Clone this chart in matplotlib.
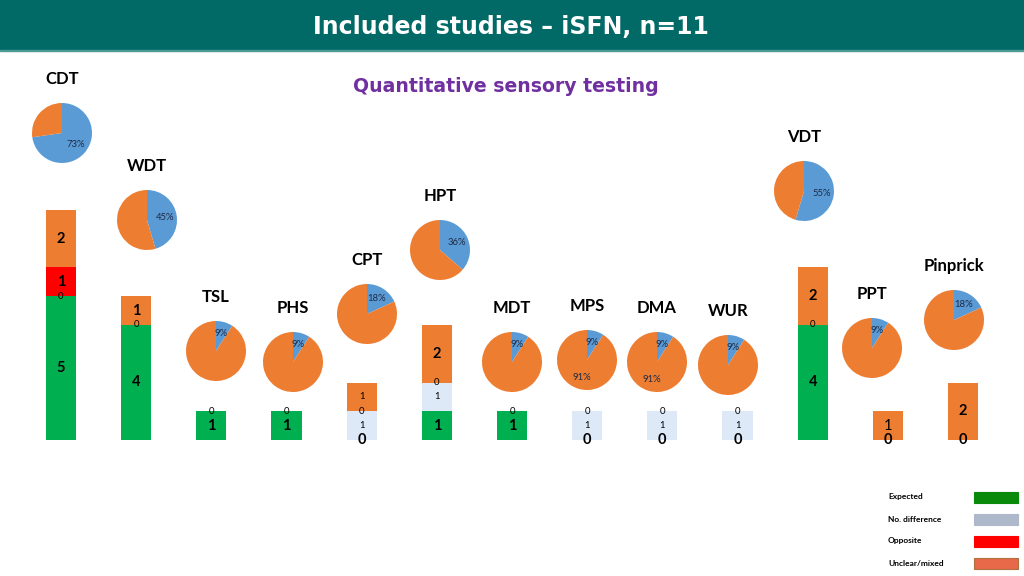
import matplotlib
matplotlib.use('Agg')
from matplotlib import pyplot as plt
from matplotlib.patches import Rectangle
import numpy as np

plt.rcParams['font.family'] = ['Lato', 'DejaVu Sans']

# data
tests = ['CDT', 'WDT', 'TSL', 'PHS', 'CPT', 'HPT', 'MDT', 'MPS', 'DMA', 'WUR', 'VDT', 'PPT', 'Pinprick']
expected = [5, 4, 1, 1, 0, 1, 1, 0, 0, 0, 4, 0, 0]
no_diff = [0, 0, 0, 0, 1, 1, 0, 1, 1, 1, 0, 0, 0]
opposite = [1, 0, 0, 0, 0, 0, 0, 0, 0, 0, 0, 0, 0]
unclear = [2, 1, 0, 0, 1, 2, 0, 0, 0, 0, 2, 1, 2]
n_studies = 11
legend_labels = ['Expected', 'No. difference', 'Opposite', 'Unclear/mixed']

# colours
c_exp, c_nd, c_opp, c_unc = '#00b050', '#dde9f6', '#ff0000', '#ed7d31'
c_blue, c_orange = '#5b9bd5', '#ed7d31'

W, H = 1024, 576
fig = plt.figure(figsize=(W / 100, H / 100), dpi=100)


def fx(x):
    return x / W


def fy(y):
    return 1 - y / H


# header band
fig.patches.append(Rectangle((0, fy(50)), 1, 50 / H, transform=fig.transFigure,
                             color='#016a67', zorder=0))
fig.patches.append(Rectangle((0, fy(51)), 1, 1.5 / H, transform=fig.transFigure,
                             color='#4d9a96', zorder=0))
fig.text(fx(511), fy(27), 'Included studies \u2013 iSFN, n=11', color='white',
         fontsize=17, fontweight='bold', family='DejaVu Sans', ha='center', va='center')
fig.text(fx(506), fy(87), 'Quantitative sensory testing', color='#7030a0',
         fontsize=13.6, fontweight='bold', family='DejaVu Sans', ha='center', va='center')

# stacked bars
step = 75.17
ax = fig.add_axes([fx(61 - step / 2), fy(440), fx(13 * step), 230 / H])
ax.set_xlim(-0.5, 12.5)
ax.set_ylim(0, 8)
ax.axis('off')

x = np.arange(len(tests))
bw = 0.4
exp_a, nd_a, opp_a, unc_a = map(np.array, (expected, no_diff, opposite, unclear))
b1 = exp_a
b2 = b1 + nd_a
b3 = b2 + opp_a
ax.bar(x, exp_a, bw, color=c_exp)
ax.bar(x, nd_a, bw, bottom=b1, color=c_nd)
ax.bar(x, opp_a, bw, bottom=b2, color=c_opp)
ax.bar(x, unc_a, bw, bottom=b3, color=c_unc)

small = dict(fontsize=6.8, color='black')
big = dict(fontsize=10.5, fontweight='bold', color='black')
mid = dict(fontsize=10.5, color='black')
unc_style = [big, big, small, small, small, big, small, small, small, small, big, mid, big]

# zero-height segments put their labels on the same spot: write each spot once
for i in x:
    seen = set()
    labs = [(b1[i] / 2, expected[i], big),
            (b3[i] + unc_a[i] / 2, unclear[i], unc_style[i]),
            (b2[i] + opp_a[i] / 2, opposite[i], big if opposite[i] > 0 else small),
            (b1[i] + nd_a[i] / 2, no_diff[i], small)]
    for yv, v, st in labs:
        if yv in seen:
            continue
        seen.add(yv)
        ax.text(i, yv, str(v), ha='center', va='center', clip_on=False, **st)

# pies: share of the 11 studies that reported each test
pie_centres = [(62, 133), (147, 220), (216, 351), (293, 362), (367, 314), (440, 250),
               (512, 362), (587, 360), (657, 362), (728, 365), (804, 191), (872, 348),
               (954, 320)]
show_rest = ['MPS', 'DMA']
r = 30
totals = b3 + unc_a
for i, (cx, cy) in enumerate(pie_centres):
    pa = fig.add_axes([fx(cx - r), fy(cy + r), 2 * r / W, 2 * r / H])
    wedges, txt, pct = pa.pie([totals[i], n_studies - totals[i]], colors=[c_blue, c_orange],
                              startangle=90, counterclock=False, autopct='%1.0f%%',
                              pctdistance=0.6, textprops=dict(fontsize=6.8, color='#1f2a44'))
    if tests[i] not in show_rest:
        pct[1].set_visible(False)
    pa.set_xlim(-1, 1)
    pa.set_ylim(-1, 1)
    fig.text(fx(cx), fy(cy - 54), tests[i], fontsize=12, fontweight='bold',
             ha='center', va='center')

# legend
leg_cols = ['#0a8a0a', '#adb9ca', '#ff0000', '#e8694a']
for k, (lab, col) in enumerate(zip(legend_labels, leg_cols)):
    yy = 497 + 22 * k
    fig.text(fx(888), fy(yy), lab, fontsize=6, fontweight='bold', ha='left', va='center')
    fig.patches.append(Rectangle((fx(974), fy(yy + 5.5)), 44 / W, 11 / H,
                                 transform=fig.transFigure, facecolor=col,
                                 edgecolor='#b07040' if k == 3 else col, lw=0.8))

fig.savefig('out.png', dpi=100)
